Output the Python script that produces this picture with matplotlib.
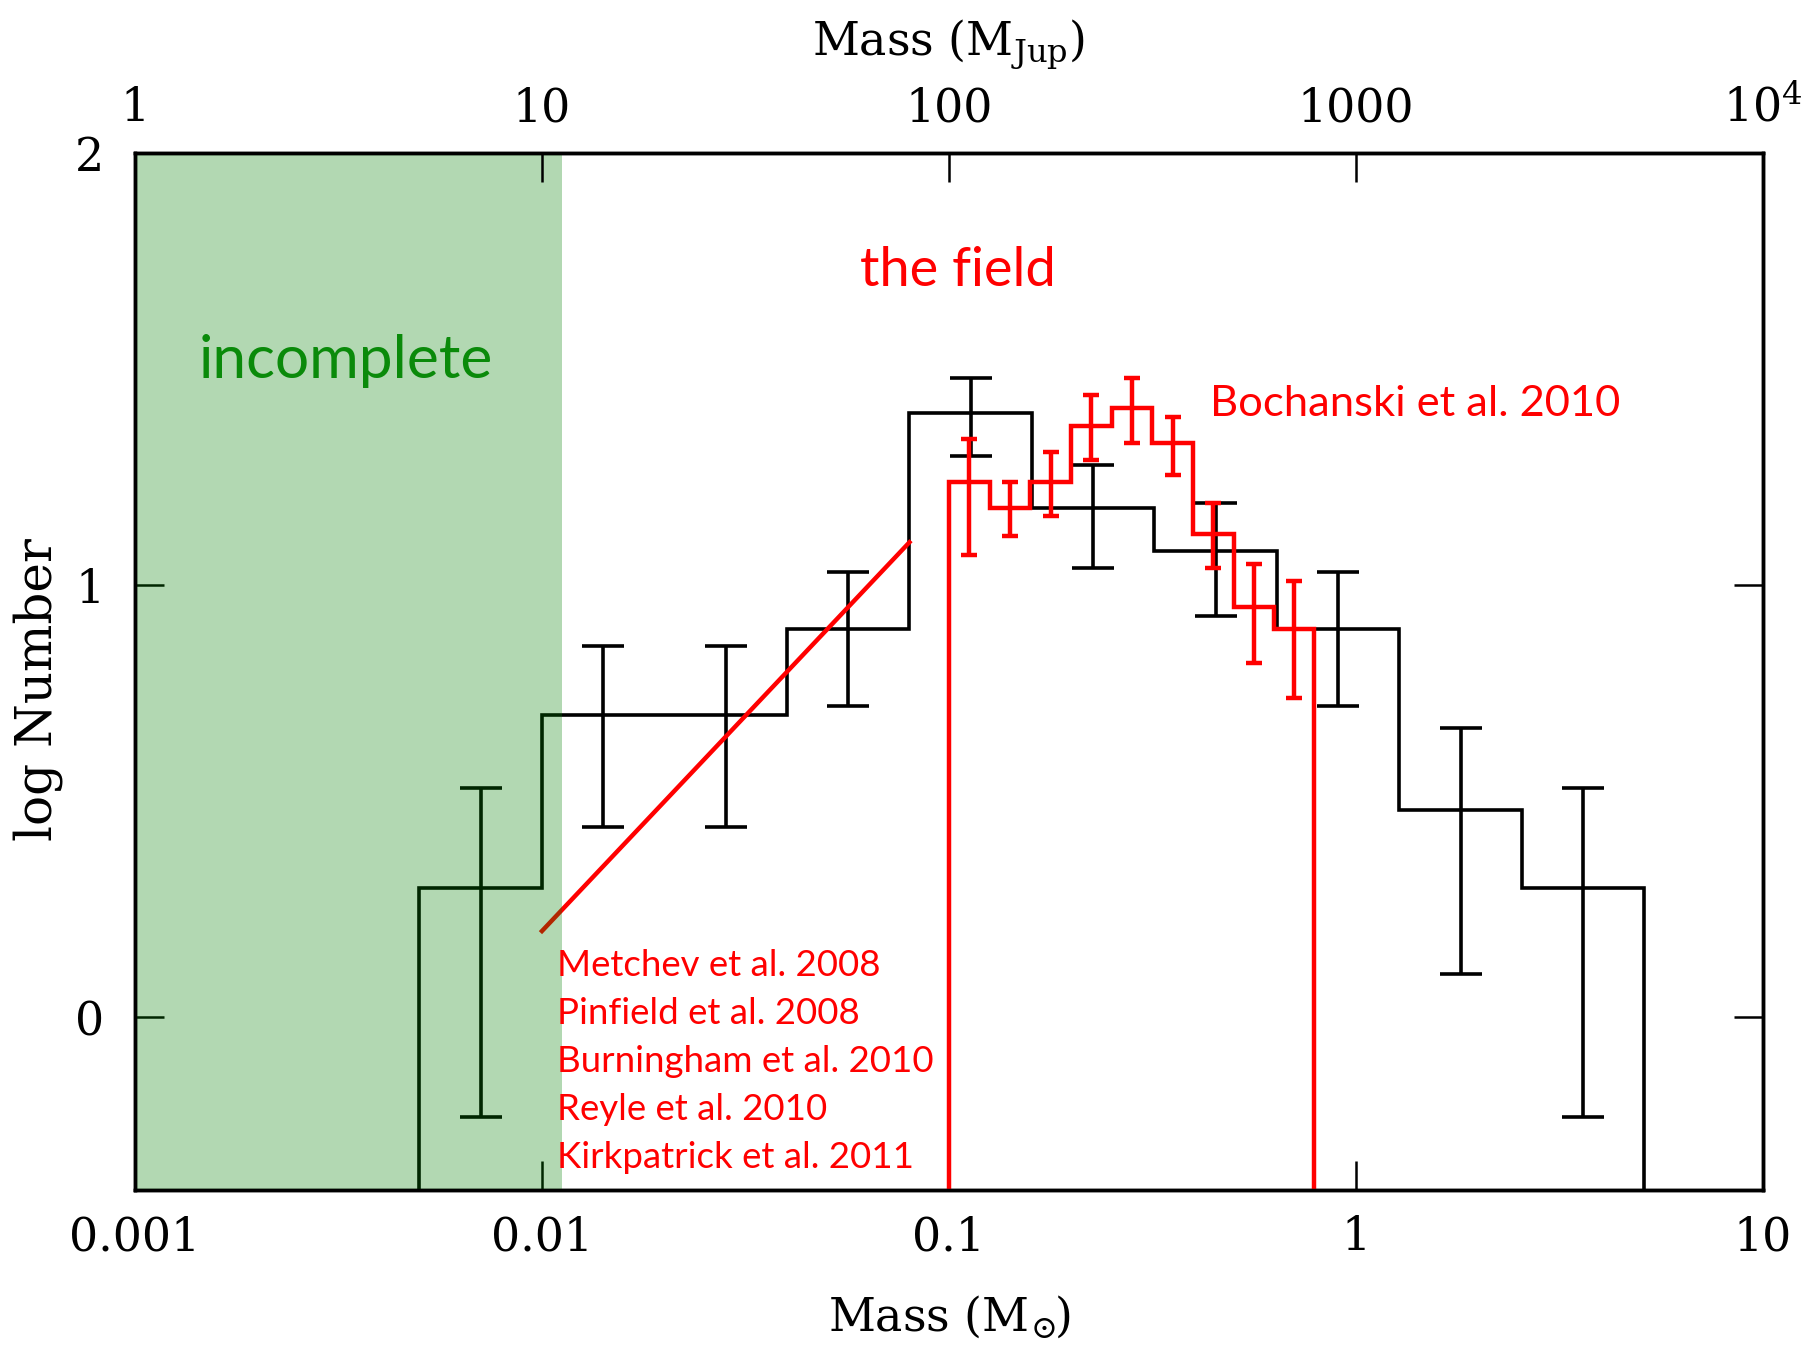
import numpy as np
import matplotlib
matplotlib.use('Agg')
import matplotlib.pyplot as plt

# black histogram (log Number per mass bin, masses in Msun)
bin_edges = [0.005, 0.01, 0.02, 0.04, 0.08, 0.16, 0.32, 0.64, 1.28, 2.56, 5.12]
log_n = [0.30, 0.70, 0.70, 0.90, 1.40, 1.18, 1.08, 0.90, 0.48, 0.30]
err_up = [0.23, 0.16, 0.16, 0.13, 0.08, 0.10, 0.11, 0.13, 0.19, 0.23]
err_dn = [0.53, 0.26, 0.26, 0.18, 0.10, 0.14, 0.15, 0.18, 0.38, 0.53]

# field mass function (Bochanski et al. 2010)
field_edges = [0.1, 0.126, 0.158, 0.2, 0.251, 0.316, 0.398, 0.501, 0.631, 0.79]
field_log_n = [1.24, 1.18, 1.24, 1.37, 1.41, 1.33, 1.12, 0.95, 0.90]
field_up = [0.10, 0.06, 0.07, 0.07, 0.07, 0.06, 0.07, 0.10, 0.11]
field_dn = [0.17, 0.065, 0.08, 0.08, 0.08, 0.075, 0.08, 0.13, 0.16]

# substellar field slope
slope_m = [0.01, 0.08]
slope_y = [0.2, 1.1]

refs = ['Metchev et al. 2008', 'Pinfield et al. 2008', 'Burningham et al. 2010',
        'Reyle et al. 2010', 'Kirkpatrick et al. 2011']

bottom_ticks = [0.001, 0.01, 0.1, 1, 10]
bottom_labels = ['0.001', '0.01', '0.1', '1', '10']
top_ticks = [1, 10, 100, 1000, 1e4]
top_labels = ['1', '10', '100', '1000', '10$^4$']

plt.rcParams['mathtext.fontset'] = 'dejavuserif'
serif = ['DejaVu Serif']
sans = ['Lato', 'DejaVu Sans']
red = '#ff0000'

fig = plt.figure(figsize=(18.1, 13.51), dpi=100)
ax = fig.add_axes([0.0746, 0.119, 0.8993, 0.7674])

ax.set_xscale('log')
ax.set_xlim(0.001, 10)
ax.set_ylim(-0.4, 2)

ax.stairs(log_n, bin_edges, baseline=-1, color='black', lw=2.6, zorder=2)
centers = np.sqrt(np.array(bin_edges[:-1]) * np.array(bin_edges[1:]))
ax.errorbar(centers, log_n, yerr=[err_dn, err_up], fmt='none', ecolor='black',
            elinewidth=2.6, capsize=15, capthick=2.6, zorder=2)

ax.stairs(field_log_n, field_edges, baseline=-1, color=red, lw=3.2, zorder=3)
fcenters = np.sqrt(np.array(field_edges[:-1]) * np.array(field_edges[1:]))
ax.errorbar(fcenters, field_log_n, yerr=[field_dn, field_up], fmt='none', ecolor=red,
            elinewidth=3.2, capsize=6, capthick=3.2, zorder=3)

ax.plot(slope_m, slope_y, color=red, lw=3.2, zorder=3)

# incomplete region
ax.axvspan(0.001, 0.0112, color='#008000', alpha=0.3, lw=0, zorder=5)

ax.text(0.0033, 1.52, 'incomplete', color='#0a8a0a', fontsize=43.5, family=sans,
        ha='center', va='center', zorder=6)
ax.text(0.105, 1.73, 'the field', color=red, fontsize=39, family=sans,
        ha='center', va='center', zorder=6)
ax.text(0.437, 1.42, 'Bochanski et al. 2010', color=red, fontsize=31.3, family=sans,
        ha='left', va='center', zorder=6)
for i, r in enumerate(refs):
    ax.text(0.0109, 0.12 - 0.111 * i, r, color=red, fontsize=26.4, family=sans,
            ha='left', va='center', zorder=6)

# axes styling
for s in ax.spines.values():
    s.set_linewidth(2.5)
ax.minorticks_off()
ax.set_xticks(bottom_ticks)
ax.set_xticklabels(bottom_labels)
ax.set_yticks([0, 1, 2])
ax.set_yticklabels(['0', '1', '2'])
ax.tick_params(axis='both', which='major', direction='in', length=21, width=1.8,
               labelsize=33, right=True)
ax.tick_params(axis='x', pad=18)
ax.tick_params(axis='y', pad=22)
for lab in ax.get_xticklabels() + ax.get_yticklabels():
    lab.set_family(serif)

ax.set_xlabel(r'Mass (M$_{\!\odot\!\!}$)', fontsize=33, family=serif, labelpad=24)
ax.set_ylabel('log Number', fontsize=36, family=serif)
ax.yaxis.label.set_va('center')
ax.yaxis.set_label_coords(-0.0596, 0.483)

ax2 = ax.twiny()
ax2.set_xscale('log')
ax2.set_xlim(1, 1e4)
ax2.minorticks_off()
ax2.set_xticks(top_ticks)
ax2.set_xticklabels(top_labels)
ax2.tick_params(axis='x', which='major', direction='in', length=21, width=1.8,
                labelsize=33, pad=16)
for lab in ax2.get_xticklabels():
    lab.set_family(serif)
ax2.set_xlabel(r'Mass (M$_{\rm Jup}$)', fontsize=33, family=serif, labelpad=22)
for s in ax2.spines.values():
    s.set_linewidth(2.5)

fig.savefig('out.png', dpi=100)
